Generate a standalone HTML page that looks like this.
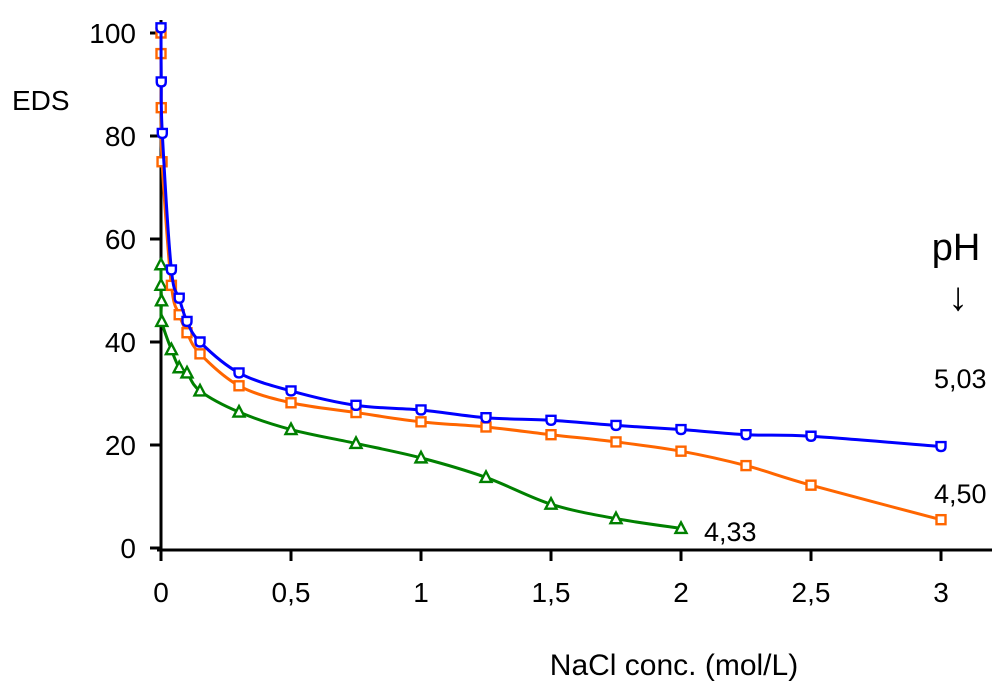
<!DOCTYPE html>
<html><head><meta charset="utf-8"><style>
body{margin:0;background:#fff;width:1000px;height:685px;overflow:hidden}
svg text{font-family:"Liberation Sans",Arial,sans-serif;fill:#000}
</style></head><body>
<svg id="chart" width="1000" height="685">
<g id="axes"></g>
<g id="series"></g>
<text x="12" y="110" font-size="28">EDS</text>
<text x="674" y="675" font-size="30" text-anchor="middle">NaCl conc. (mol/L)</text>
<text x="956" y="260" font-size="38" text-anchor="middle">pH</text>
<text x="958" y="310" font-size="40" text-anchor="middle">↓</text>
<text x="934" y="388" font-size="27">5,03</text>
<text x="934" y="503" font-size="27">4,50</text>
<text x="704" y="541" font-size="27">4,33</text>
</svg>
<script>
const xTicks=[0,0.5,1,1.5,2,2.5,3];
const xTickLabels=["0","0,5","1","1,5","2","2,5","3"];
const yTicks=[0,20,40,60,80,100];
const blueX=[0,0.001,0.005,0.04,0.07,0.1,0.15,0.3,0.5,0.75,1,1.25,1.5,1.75,2,2.25,2.5,3];
const blueY=[101,90.5,80.5,54,48.5,44,40,34,30.5,27.7,26.8,25.3,24.8,23.8,23,22,21.7,19.7];
const orangeX=[0,0,0.001,0.004,0.04,0.07,0.1,0.15,0.3,0.5,0.75,1,1.25,1.5,1.75,2,2.25,2.5,3];
const orangeY=[100,96,85.5,75,51,45.3,41.8,37.7,31.5,28.2,26.3,24.5,23.5,22,20.6,18.8,16,12.2,5.5];
const greenX=[0,0,0.002,0.003,0.04,0.07,0.1,0.15,0.3,0.5,0.75,1,1.25,1.5,1.75,2];
const greenY=[55,51,48,44,38.5,35,34,30.5,26.4,23,20.3,17.5,13.7,8.5,5.7,3.8];
const NS="http://www.w3.org/2000/svg";
const sx=v=>161+v*260, sy=v=>548-v*5.15;
function mk(t,a,p){const e=document.createElementNS(NS,t);for(const k in a)e.setAttribute(k,a[k]);p.appendChild(e);return e;}
const ax=document.getElementById('axes');
let l=mk('line',{x1:161,y1:20,x2:161,y2:552,stroke:'#000','stroke-width':3},ax);


l=mk('line',{x1:157,y1:550,x2:992,y2:550,stroke:'#000','stroke-width':3},ax);


yTicks.forEach(v=>{
 const t=mk('line',{x1:150,x2:161,y1:sy(v),y2:sy(v),stroke:'#000','stroke-width':3},ax);
 
 
 const tx=mk('text',{x:136,y:sy(v)+10,'font-size':28,'text-anchor':'end'},ax);tx.textContent=v;
 
 
});
xTicks.forEach((v,i)=>{
 const t=mk('line',{x1:sx(v),x2:sx(v),y1:550,y2:561,stroke:'#000','stroke-width':3},ax);
 
 
 const tx=mk('text',{x:sx(v),y:602,'font-size':28,'text-anchor':'middle'},ax);tx.textContent=xTickLabels[i];
 
 
});
function smooth(pts){let d=`M${pts[0][0]},${pts[0][1]}`;for(let i=0;i<pts.length-1;i++){const p0=pts[i-1]||pts[i],p1=pts[i],p2=pts[i+1],p3=pts[i+2]||p2;const k=1/6;d+=` C${p1[0]+(p2[0]-p0[0])*k},${p1[1]+(p2[1]-p0[1])*k} ${p2[0]-(p3[0]-p1[0])*k},${p2[1]-(p3[1]-p1[1])*k} ${p2[0]},${p2[1]}`;}return d;}
const sg=document.getElementById('series');
function series(xs,ys,color,shape,name){
 const g=mk('g',{},sg);
 
 
 const pts=xs.map((x,i)=>[sx(x),sy(ys[i])]);
 const p=mk('path',{d:smooth(pts),fill:'none',stroke:color,'stroke-width':3},g);
 
 
 pts.forEach(([x,y])=>{
  let m;
  if(shape==='sq')m=mk('rect',{x:x-4.5,y:y-4.5,width:9,height:9,fill:'#fff',stroke:color,'stroke-width':2.4},g);
  else if(shape==='tri')m=mk('path',{d:`M${x},${y-6} L${x+5.5},${y+4.5} L${x-5.5},${y+4.5}Z`,fill:'#fff',stroke:color,'stroke-width':2.4},g);
  else m=mk('path',{d:`M${x-4.5},${y-4.5} L${x+4.5},${y-4.5} L${x+4.5},${y} Q${x+4.5},${y+4.5} ${x},${y+4.5} Q${x-4.5},${y+4.5} ${x-4.5},${y}Z`,fill:'#fff',stroke:color,'stroke-width':2.4},g);
  
  
 });
}
series(greenX,greenY,'#008000','tri','series-ph-433');
series(orangeX,orangeY,'#ff6600','sq','series-ph-450');
series(blueX,blueY,'#0000ff','sh','series-ph-503');
</script>
</body></html>
